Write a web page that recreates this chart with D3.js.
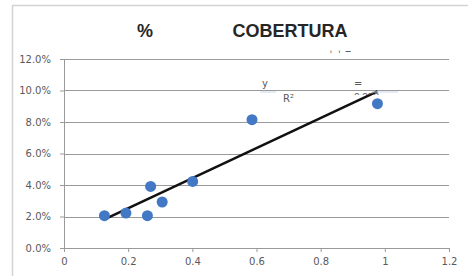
<!DOCTYPE html>
<html>
<head>
<meta charset="utf-8">
<script src="https://cdn.jsdelivr.net/npm/d3@7"></script>
<style>
  body { margin: 0; background: #fff; }
  text { font-family: "DejaVu Sans", sans-serif; }
</style>
</head>
<body>
<div id="chart"></div>
<script>
// data
var xValues = [0.126, 0.193, 0.26, 0.27, 0.306, 0.401, 0.586, 0.977];
var yValues = [0.0205, 0.0222, 0.0205, 0.0391, 0.0292, 0.0423, 0.0815, 0.0916];
var xTicks = [0, 0.2, 0.4, 0.6, 0.8, 1, 1.2];
var yTicks = [0, 0.02, 0.04, 0.06, 0.08, 0.10, 0.12];

var w = 468, h = 276;
var margin = { top: 59, right: 19, bottom: 28, left: 64 };
var iw = w - margin.left - margin.right;
var ih = h - margin.top - margin.bottom;

var svg = d3.select("#chart").append("svg")
    .attr("width", w)
    .attr("height", h);

// outer chart frame (only top and left edges are visible)
svg.append("path")
    .attr("d", "M12.5," + h + "V5.5H" + w)
    .style("fill", "none")
    .style("stroke", "#d3d3d3")
    .style("stroke-width", 1.5);

// title
svg.append("text")
    .attr("x", 145).attr("y", 37)
    .attr("text-anchor", "middle")
    .style("font-family", "Liberation Sans, sans-serif")
    .style("font-weight", "bold")
    .style("font-size", "18px")
    .style("fill", "#262626")
    .text("%");
svg.append("text")
    .attr("x", 290).attr("y", 37)
    .attr("text-anchor", "middle")
    .style("font-family", "Liberation Sans, sans-serif")
    .style("font-weight", "bold")
    .style("font-size", "18px")
    .style("fill", "#262626")
    .text("COBERTURA");

var g = svg.append("g")
    .attr("transform", "translate(" + margin.left + "," + margin.top + ")");

var xScale = d3.scaleLinear().domain([0, 1.2]).range([0, iw]);
var yScale = d3.scaleLinear().domain([0, 0.12]).range([ih, 0]);

// gridlines
g.selectAll(".grid")
    .data(yTicks)
    .enter().append("line")
    .attr("class", "grid")
    .attr("x1", 0).attr("x2", iw)
    .attr("y1", function (d) { return Math.round(yScale(d)) + 0.5; })
    .attr("y2", function (d) { return Math.round(yScale(d)) + 0.5; })
    .style("stroke", "#9a9a9a")
    .style("stroke-width", 1);

// Y axis
var yAxis = g.append("g")
    .call(d3.axisLeft(yScale).tickValues(yTicks).tickFormat(d3.format(".1%")).tickSize(4).tickPadding(8));
// X axis
var xAxis = g.append("g")
    .attr("transform", "translate(0," + ih + ")")
    .call(d3.axisBottom(xScale).tickValues(xTicks).tickFormat(d3.format("")).tickSize(4).tickPadding(6));

[yAxis, xAxis].forEach(function (ax) {
    ax.select(".domain").style("stroke", "#9a9a9a");
    ax.selectAll(".tick line").style("stroke", "#9a9a9a");
    ax.selectAll("text")
        .style("font-family", "DejaVu Sans, sans-serif")
        .style("font-size", "10px")
        .style("fill", "#595959");
});
yAxis.selectAll("text").attr("dx", "-1");

// linear trendline (least squares)
var n = xValues.length;
var mx = d3.mean(xValues), my = d3.mean(yValues);
var sxy = d3.sum(xValues, function (x, i) { return (x - mx) * (yValues[i] - my); });
var sxx = d3.sum(xValues, function (x) { return (x - mx) * (x - mx); });
var slope = sxy / sxx;
var intercept = my - slope * mx;
var x0 = d3.min(xValues), x1 = d3.max(xValues);

g.append("line")
    .attr("x1", xScale(x0)).attr("y1", yScale(intercept + slope * x0))
    .attr("x2", xScale(x1)).attr("y2", yScale(intercept + slope * x1))
    .style("stroke", "#111")
    .style("stroke-width", 2.5);

// points
g.selectAll(".dot")
    .data(xValues)
    .enter().append("circle")
    .attr("class", "dot")
    .attr("cx", function (d) { return xScale(d); })
    .attr("cy", function (d, i) { return yScale(yValues[i]); })
    .attr("r", 5.5)
    .style("fill", "#4379c4");

// trendline label (clipped in the original)
var lbl = svg.append("g")
    .style("font-family", "Liberation Sans, sans-serif")
    .style("font-size", "10px")
    .style("fill", "#595959");
lbl.append("text").attr("x", 262).attr("y", 87).text("y");
lbl.append("text").attr("x", 354).attr("y", 87).text("=");
lbl.append("text").attr("x", 283).attr("y", 102).text("R²");

svg.append("clipPath").attr("id", "clipR")
    .append("rect").attr("x", 350).attr("y", 91).attr("width", 50).attr("height", 4);
svg.append("text")
    .attr("x", 354).attr("y", 101)
    .attr("clip-path", "url(#clipR)")
    .style("font-family", "Liberation Sans, sans-serif")
    .style("font-size", "10px")
    .style("fill", "#595959")
    .text("0.858");

svg.append("clipPath").attr("id", "clipT")
    .append("rect").attr("x", 320).attr("y", 48).attr("width", 40).attr("height", 5);
svg.append("text")
    .attr("x", 328).attr("y", 57)
    .attr("clip-path", "url(#clipT)")
    .style("font-family", "Liberation Sans, sans-serif")
    .style("font-size", "10px")
    .style("fill", "#595959")
    .text("+ + =");

// faint underlines near the label
svg.append("line").attr("x1", 260).attr("x2", 276).attr("y1", 92).attr("y2", 92)
    .style("stroke", "#c9d7ea").style("stroke-width", 1);
svg.append("line").attr("x1", 372).attr("x2", 398).attr("y1", 92).attr("y2", 92)
    .style("stroke", "#c9d7ea").style("stroke-width", 1);
</script>
</body>
</html>
